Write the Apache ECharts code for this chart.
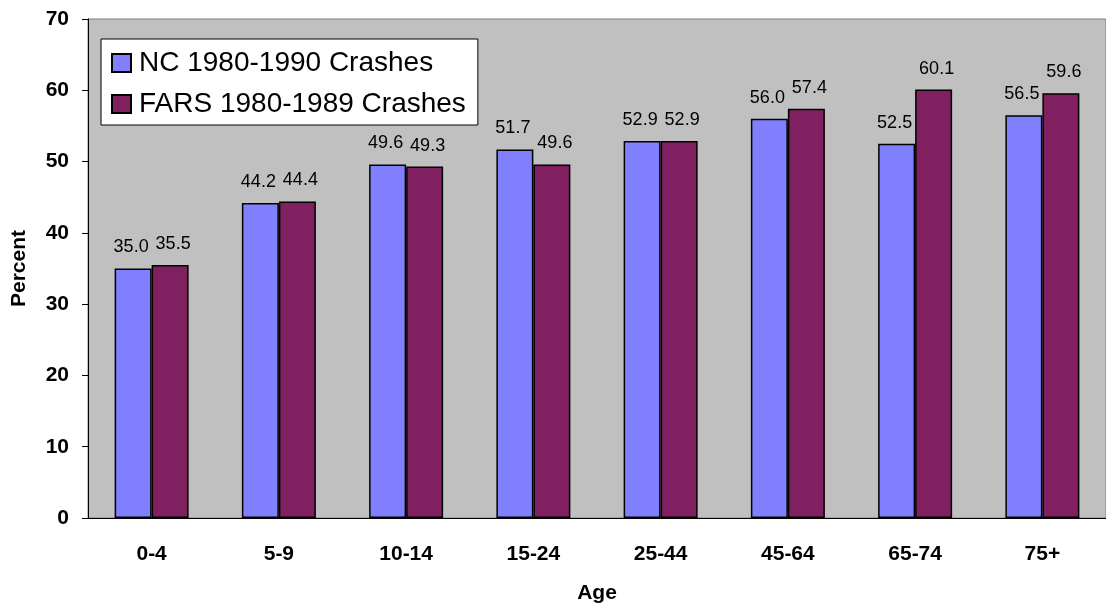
<!DOCTYPE html>
<html>
<head>
<meta charset="utf-8">
<script src="https://cdn.jsdelivr.net/npm/echarts@6/dist/echarts.min.js"></script>
<style>
  html, body { margin: 0; padding: 0; background: #fff; }
  #chart { width: 1106px; height: 609px; }
</style>
</head>
<body>
<div id="chart"></div>
<script>
// age groups
var ageGroups = ['0-4', '5-9', '10-14', '15-24', '25-44', '45-64', '65-74', '75+'];
// percent values per series
var ncCrashes = [35.0, 44.2, 49.6, 51.7, 52.9, 56.0, 52.5, 56.5];
var farsCrashes = [35.5, 44.4, 49.3, 49.6, 52.9, 57.4, 60.1, 59.6];
var yTicks = [0, 10, 20, 30, 40, 50, 60, 70];

var chart = echarts.init(document.getElementById('chart'));

// value labels above bars, nudged apart a little like the original
function valueLabel(dx) {
  return {
    show: true,
    position: 'top',
    distance: 12,
    offset: [dx, 0],
    fontFamily: 'Liberation Sans, Arial',
    fontSize: 18,
    color: '#000',
    formatter: function (p) { return p.value.toFixed(1); }
  };
}

chart.setOption({
  animation: false,
  textStyle: { fontFamily: 'Liberation Sans, Arial' },
  grid: {
    left: 88,
    top: 19,
    width: 1024,
    height: 503,
    show: true,
    backgroundColor: '#C0C0C0',
    borderColor: '#808080',
    borderWidth: 1
  },
  legend: {
    orient: 'vertical',
    left: 101,
    top: 39,
    padding: [9, 12, 6, 10],
    itemGap: 11,
    itemWidth: 19,
    itemHeight: 18,
    icon: 'rect',
    backgroundColor: '#fff',
    borderColor: '#000',
    borderWidth: 1,
    borderRadius: 0,
    textStyle: {
      fontSize: 28, lineHeight: 30, color: '#000',
      fontFamily: 'Liberation Sans, Arial', padding: [0, 0, 0, 3]
    },
    data: ['NC 1980-1990 Crashes', 'FARS 1980-1989 Crashes']
  },
  xAxis: {
    type: 'category',
    data: ageGroups,
    name: 'Age',
    nameLocation: 'middle',
    nameGap: 65,
    nameTextStyle: { fontSize: 21, fontWeight: 'bold', color: '#000' },
    axisLine: { lineStyle: { color: '#000', width: 1 } },
    axisTick: { show: false },
    axisLabel: { fontSize: 21, fontWeight: 'bold', color: '#000', margin: 26 }
  },
  yAxis: {
    type: 'value',
    min: 0,
    max: 70,
    interval: 10,
    name: 'Percent',
    nameLocation: 'middle',
    nameGap: 58,
    nameTextStyle: { fontSize: 21, fontWeight: 'bold', color: '#000' },
    axisLine: { show: true, lineStyle: { color: '#000', width: 1 } },
    axisTick: { show: true, length: 6, lineStyle: { color: '#000' } },
    axisLabel: {
      fontSize: 21, fontWeight: 'bold', color: '#000', margin: 19,
      formatter: function (v) { return yTicks.indexOf(v) >= 0 ? String(v) : ''; }
    },
    splitLine: { show: false }
  },
  series: [
    {
      name: 'NC 1980-1990 Crashes',
      type: 'bar',
      data: ncCrashes,
      barWidth: 37,
      barGap: '0%',
      barCategoryGap: '43%',
      itemStyle: { color: '#8080FF', borderColor: '#000', borderWidth: 1.5 },
      label: valueLabel(-2)
    },
    {
      name: 'FARS 1980-1989 Crashes',
      type: 'bar',
      data: farsCrashes,
      barWidth: 37,
      barGap: '0%',
      itemStyle: { color: '#802060', borderColor: '#000', borderWidth: 1.5 },
      label: valueLabel(3)
    }
  ]
});
</script>
</body>
</html>
